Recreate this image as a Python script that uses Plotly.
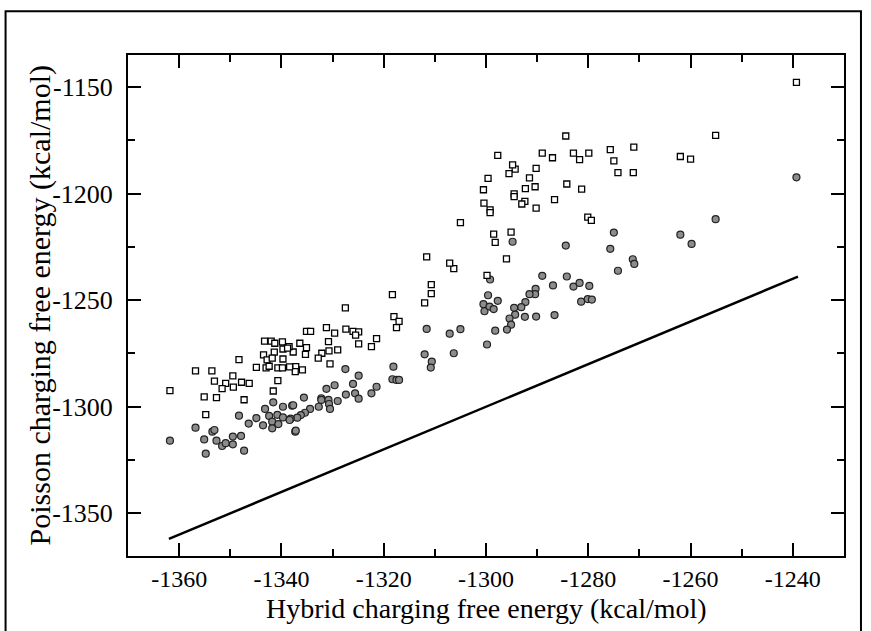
import plotly.graph_objects as go

# ---- data ----
sq_x = [-1239.3, -1255.1, -1262.0, -1260.0, -1271.1, -1271.2, -1274.2, -1275.0, -1275.7, -1279.9,
        -1280.1, -1279.4, -1281.7, -1282.9, -1281.3, -1284.4, -1284.2, -1286.6, -1287.0, -1289.0,
        -1290.2, -1290.2, -1290.4, -1291.5, -1292.3, -1292.4, -1293.0, -1294.3, -1294.5, -1294.5,
        -1294.8, -1295.1, -1295.5, -1296.0, -1297.7, -1298.5, -1298.2, -1299.2, -1299.2, -1299.6,
        -1300.4, -1300.5, -1299.8, -1305.0, -1306.3, -1307.1, -1310.7, -1310.7, -1311.6, -1312.0,
        -1318.3, -1327.5, -1318.0, -1317.0, -1317.5, -1335.1, -1334.3, -1331.2, -1329.6, -1327.4,
        -1326.0, -1324.9, -1325.5, -1321.4, -1324.9, -1322.4, -1330.8, -1329.0, -1330.7, -1336.4,
        -1335.1, -1335.3, -1332.1, -1332.8, -1330.5, -1337.7, -1338.5, -1337.2, -1337.3, -1335.9,
        -1361.8, -1356.8, -1353.6, -1348.3, -1353.1, -1349.5, -1350.9, -1351.6, -1349.4, -1347.8,
        -1346.3, -1355.1, -1352.7, -1347.3, -1354.8, -1344.9, -1343.3, -1342.0, -1341.3, -1339.8,
        -1343.5, -1342.8, -1341.4, -1341.8, -1339.7, -1339.7, -1338.8, -1343.0, -1342.4, -1340.7,
        -1339.8, -1338.4, -1340.7, -1341.6]
sq_y = [-1147.8, -1172.7, -1182.6, -1183.8, -1178.2, -1190.2, -1190.2, -1184.7, -1179.4, -1181.0,
        -1211.0, -1212.6, -1184.1, -1181.0, -1197.9, -1173.0, -1195.5, -1202.8, -1183.2, -1181.0,
        -1206.8, -1188.2, -1196.8, -1192.6, -1197.7, -1203.7, -1204.9, -1188.5, -1200.1, -1201.4,
        -1186.5, -1218.1, -1190.6, -1230.6, -1182.1, -1219.0, -1222.9, -1207.6, -1208.9, -1192.9,
        -1204.5, -1198.2, -1238.4, -1213.6, -1235.2, -1232.6, -1242.7, -1246.9, -1229.7, -1251.3,
        -1247.4, -1253.6, -1257.7, -1259.9, -1262.9, -1264.6, -1264.6, -1262.9, -1265.5, -1263.6,
        -1264.6, -1264.9, -1266.4, -1268.0, -1270.5, -1271.8, -1269.4, -1273.3, -1273.8, -1270.2,
        -1272.3, -1275.4, -1274.9, -1277.2, -1279.9, -1274.3, -1271.8, -1281.2, -1283.5, -1282.7,
        -1292.4, -1283.2, -1283.2, -1277.9, -1288.0, -1285.5, -1289.0, -1291.5, -1290.8, -1288.5,
        -1289.0, -1295.4, -1295.7, -1296.7, -1303.7, -1281.5, -1269.2, -1269.2, -1270.2, -1269.6,
        -1275.7, -1278.0, -1274.4, -1277.2, -1272.9, -1277.6, -1272.5, -1281.8, -1281.0, -1281.8,
        -1281.8, -1281.3, -1287.7, -1292.6]

ci_x = [-1239.3, -1255.1, -1262.0, -1259.8, -1275.0, -1284.4, -1275.7, -1271.3, -1271.0, -1274.2,
        -1284.2, -1282.9, -1281.7, -1279.8, -1281.4, -1280.1, -1279.3, -1294.8, -1299.2, -1289.0,
        -1286.9, -1290.3, -1290.4, -1291.5, -1292.3, -1293.1, -1294.5, -1299.6, -1297.7, -1300.5,
        -1300.3, -1299.3, -1298.5, -1294.3, -1295.4, -1295.1, -1295.9, -1292.4, -1290.2, -1286.6,
        -1298.2, -1299.8, -1311.6, -1307.1, -1305.0, -1312.0, -1306.3, -1310.6, -1310.8,
        -1318.1, -1318.3, -1317.5, -1317.0, -1327.5, -1324.9, -1329.6, -1331.2, -1326.0, -1325.6,
        -1324.9, -1327.4, -1329.0, -1321.4, -1322.4, -1335.6, -1332.2, -1332.2, -1330.8, -1330.7,
        -1330.5, -1332.7, -1334.4, -1335.4, -1336.2, -1336.9, -1338.2, -1337.9, -1337.3,
        -1361.8, -1356.8, -1353.5, -1353.1, -1355.1, -1354.8, -1352.7, -1351.6, -1350.9, -1349.5,
        -1349.5, -1347.9, -1347.3, -1348.3, -1346.4, -1344.9, -1343.6, -1343.2, -1341.6, -1342.4,
        -1341.8, -1341.8, -1340.6, -1340.8, -1339.7, -1339.7, -1338.4, -1337.7, -1337.2]
ci_y = [-1192.4, -1212.0, -1219.3, -1223.6, -1218.3, -1224.4, -1225.9, -1230.8, -1233.0, -1236.2,
        -1238.9, -1243.6, -1241.9, -1243.3, -1250.7, -1249.5, -1249.7, -1222.6, -1240.3, -1238.6,
        -1243.1, -1244.7, -1247.2, -1247.2, -1250.9, -1253.3, -1253.6, -1247.7, -1250.3, -1251.9,
        -1255.2, -1253.0, -1254.2, -1256.8, -1258.6, -1261.5, -1263.8, -1257.8, -1257.7, -1257.0,
        -1264.3, -1270.8, -1263.5, -1265.7, -1263.6, -1275.4, -1274.9, -1278.8, -1281.6,
        -1281.2, -1287.1, -1287.4, -1287.4, -1282.3, -1285.4, -1289.9, -1291.6, -1289.3, -1293.7,
        -1296.2, -1294.3, -1297.3, -1290.6, -1293.7, -1295.7, -1296.0, -1296.8, -1296.8, -1298.7,
        -1301.0, -1300.0, -1301.0, -1302.8, -1303.9, -1305.1, -1305.6, -1299.5, -1311.7,
        -1315.9, -1309.8, -1311.7, -1310.9, -1315.3, -1322.0, -1315.9, -1318.4, -1317.1, -1314.0,
        -1317.6, -1313.7, -1320.6, -1304.2, -1307.9, -1305.3, -1308.7, -1301.0, -1297.9, -1304.3,
        -1307.0, -1310.1, -1308.1, -1303.8, -1300.0, -1305.0, -1306.2, -1299.3, -1311.2]

# y = x reference line, spanning the hybrid-energy range of the data
diag_x = [-1362.0, -1239.0]
diag_y = [-1362.0, -1239.0]

x_tickvals = [-1360, -1340, -1320, -1300, -1280, -1260, -1240]
x_ticktext = ["-1360", "-1340", "-1320", "-1300", "-1280", "-1260", "-1240"]
y_tickvals = [-1350, -1300, -1250, -1200, -1150]
y_ticktext = ["-1350", "-1300", "-1250", "-1200", "-1150"]

x_title = "Hybrid charging free energy (kcal/mol)"
y_title = "Poisson charging free energy (kcal/mol)"

FONT = "Liberation Serif"

fig = go.Figure()
fig.add_trace(go.Scatter(x=diag_x, y=diag_y, mode="lines",
                         line=dict(color="black", width=2.5), showlegend=False, hoverinfo="skip"))
fig.add_trace(go.Scatter(x=ci_x, y=ci_y, mode="markers",
                         marker=dict(symbol="circle", size=7, color="#8c8c8c",
                                     line=dict(color="#222222", width=1.2)),
                         showlegend=False))
fig.add_trace(go.Scatter(x=sq_x, y=sq_y, mode="markers",
                         marker=dict(symbol="square", size=6, color="white",
                                     line=dict(color="black", width=1.3)),
                         showlegend=False))

axis_common = dict(showline=True, linecolor="black", linewidth=2, mirror="allticks",
                   ticks="inside", ticklen=13, tickwidth=2, tickcolor="black",
                   showgrid=False, zeroline=False)

fig.update_xaxes(range=[-1370, -1230], tickmode="array", tickvals=x_tickvals, ticktext=x_ticktext,
                 minor=dict(dtick=10, tick0=-1370, ticks="inside", ticklen=7, tickwidth=2,
                            tickcolor="black", showgrid=False),
                 tickfont=dict(family=FONT, size=24, color="black"),
                 ticklabelstandoff=0,
                 **axis_common)
fig.update_yaxes(range=[-1370, -1135], tickmode="array", tickvals=y_tickvals, ticktext=y_ticktext,
                 minor=dict(dtick=25, tick0=-1375, ticks="inside", ticklen=7, tickwidth=2,
                            tickcolor="black", showgrid=False),
                 tickfont=dict(family=FONT, size=26, color="black"),
                 ticklabelstandoff=8,
                 **axis_common)

# axis titles placed as annotations
fig.add_annotation(text=x_title, xref="paper", yref="paper", x=0.5, y=-0.104,
                   xanchor="center", yanchor="middle", showarrow=False,
                   font=dict(family=FONT, size=28, color="black"))
fig.add_annotation(text=y_title, xref="paper", yref="paper", x=-0.123, y=0.5,
                   xanchor="center", yanchor="middle", textangle=-90, showarrow=False,
                   font=dict(family=FONT, size=30, color="black"))

# outer frame around the whole graphic
fig.add_shape(type="rect", xref="paper", yref="paper",
              x0=-0.171, x1=1.0237, y0=-0.17, y1=1.0872,
              line=dict(color="black", width=2), fillcolor="rgba(0,0,0,0)", layer="above")

fig.update_layout(width=871, height=631,
                  margin=dict(l=128, r=27, t=55, b=75, autoexpand=False),
                  plot_bgcolor="white", paper_bgcolor="white",
                  font=dict(family=FONT, color="black"))

fig.write_html("out.html", config={"displayModeBar": False},
               post_script="document.body.style.margin='0';document.body.style.padding='0';")
